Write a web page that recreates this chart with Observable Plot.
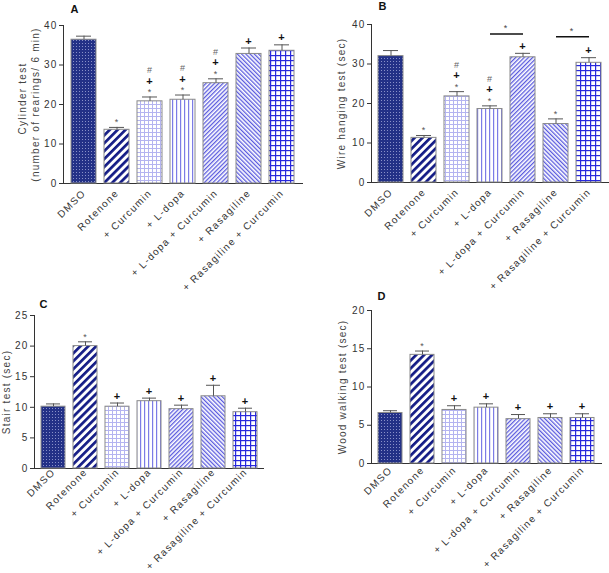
<!DOCTYPE html>
<html><head><meta charset="utf-8">
<script src="https://cdn.jsdelivr.net/npm/d3@7"></script>
<script src="https://cdn.jsdelivr.net/npm/@observablehq/plot@0.6"></script>
<style>
body{margin:0;background:#fff}
#root{position:relative;width:609px;height:573px;overflow:hidden;font-family:"Liberation Sans",Arial,sans-serif}
#root svg.plot{position:absolute}
#root svg text{letter-spacing:1.25px}
</style></head><body>
<svg width="0" height="0" style="position:absolute">
<defs>
 <pattern id="p0" width="3" height="3" patternUnits="userSpaceOnUse">
   <rect width="3" height="3" fill="#233187"/>
   <rect x="1" y="1" width="1" height="1" fill="#8890c8"/>
 </pattern>
 <pattern id="p1" width="5.6" height="5.6" patternUnits="userSpaceOnUse" patternTransform="rotate(45)">
   <rect width="5.6" height="5.6" fill="#fff"/>
   <rect width="2.7" height="5.6" fill="#141c86"/>
 </pattern>
 <pattern id="p2" width="4" height="4" patternUnits="userSpaceOnUse">
   <rect width="4" height="4" fill="#fff"/>
   <rect width="1" height="4" fill="#b4b4f0"/>
   <rect width="4" height="1" fill="#b4b4f0"/>
 </pattern>
 <pattern id="p3" width="4" height="4" patternUnits="userSpaceOnUse">
   <rect width="4" height="4" fill="#fff"/>
   <rect width="1.2" height="4" fill="#7c7ce6"/>
 </pattern>
 <pattern id="p4" width="3" height="3" patternUnits="userSpaceOnUse" patternTransform="rotate(45)">
   <rect width="3" height="3" fill="#fff"/>
   <rect width="1.3" height="3" fill="#5a5ade"/>
 </pattern>
 <pattern id="p5" width="3" height="3" patternUnits="userSpaceOnUse" patternTransform="rotate(-45)">
   <rect width="3" height="3" fill="#fff"/>
   <rect width="1.3" height="3" fill="#5a5ade"/>
 </pattern>
 <pattern id="p6" width="5" height="5" patternUnits="userSpaceOnUse">
   <rect width="5" height="5" fill="#fff"/>
   <rect width="1.2" height="5" fill="#2828dc"/>
   <rect width="5" height="1.2" fill="#2828dc"/>
 </pattern>
</defs></svg>
<div id="root"></div>
<script>
// ---------- data ----------
const groups = ["DMSO", "Rotenone", "+ Curcumin", "+ L-dopa", "+ L-dopa + Curcumin", "+ Rasagiline", "+ Rasagiline + Curcumin"];

const cylinderMean = [36.4, 13.6, 20.8, 21.2, 25.4, 32.8, 33.6];
const cylinderSem  = [0.9, 0.6, 1.1, 1.2, 1.1, 1.5, 1.5];
const cylinderSig  = ["", "*", "*+#", "*+#", "*+#", "+", "+"];

const wireMean = [32.0, 11.3, 21.8, 18.6, 31.7, 14.8, 30.3];
const wireSem  = [1.4, 0.6, 1.2, 0.8, 1.0, 1.3, 1.3];
const wireSig  = ["", "*", "*+#", "*+#", "+", "*", "+"];
const wireCompareFrom = ["+ L-dopa", "+ Rasagiline"];
const wireCompareTo   = ["+ L-dopa + Curcumin", "+ Rasagiline + Curcumin"];
const wireCompareLevel = [37.6, 36.9];

const stairMean = [10.1, 20.0, 10.1, 11.0, 9.7, 11.8, 9.2];
const stairSem  = [0.45, 0.7, 0.6, 0.5, 0.65, 1.8, 0.65];
const stairSig  = ["", "*", "+", "+", "+", "+", "+"];

const woodMean = [6.6, 14.2, 7.0, 7.3, 5.8, 5.95, 5.95];
const woodSem  = [0.3, 0.5, 0.55, 0.5, 0.6, 0.55, 0.55];
const woodSig  = ["", "*", "+", "+", "+", "+", "+"];

const yTicksCyl = [0, 10, 20, 30, 40];
const yTicksWire = [0, 10, 20, 30, 40];
const yTicksStair = [0, 5, 10, 15, 20, 25];
const yTicksWood = [0, 5, 10, 15, 20];

// ---------- drawing ----------
const symStyle = {
  "*": {fontSize: 9, fill: "#555", fontWeight: "normal", corr: 2.1},
  "+": {fontSize: 11, fill: "#111", fontWeight: "bold", corr: 0},
  "#": {fontSize: 9, fill: "#666", fontWeight: "normal", corr: 0}
};
const stackOff = [7, 16, 27];

function panel(o) {
  const data = groups.map((g, i) => ({group: g, mean: o.mean[i], top: o.mean[i] + o.sem[i], i}));
  const ann = [];
  data.forEach((d, i) => {
    [...o.sig[i]].forEach((s, k) => ann.push({group: d.group, top: d.top, sym: s, idx: k}));
  });
  const marks = [];
  groups.forEach((g, i) => {
    marks.push(Plot.barY(data.filter(d => d.group === g), {x: "group", y: "mean", fill: `url(#p${i})`, stroke: "#8a8a8a", strokeWidth: 1}));
  });
  marks.push(Plot.ruleX(data, {x: "group", y1: "mean", y2: "top", stroke: "#555", strokeWidth: 1}));
  marks.push(Plot.tickY(data, {x: "group", y: "top", stroke: "#555", strokeWidth: 1, insetLeft: 5, insetRight: 5}));
  for (const s of Object.keys(symStyle)) {
    for (let k = 0; k < 3; k++) {
      const sub = ann.filter(a => a.sym === s && a.idx === k);
      if (!sub.length) continue;
      const st = symStyle[s];
      marks.push(Plot.text(sub, {x: "group", y: "top", text: "sym", lineAnchor: "middle",
        dy: -stackOff[k] + st.corr, fontSize: st.fontSize, fill: st.fill, fontWeight: st.fontWeight}));
    }
  }
  if (o.compare) {
    const cmp = o.compare.from.map((f, i) => ({from: f, to: o.compare.to[i], y: o.compare.level[i]}));
    marks.push(Plot.link(cmp, {x1: "from", x2: "to", y1: "y", y2: "y", stroke: "#111", strokeWidth: 1.5}));
    marks.push(Plot.text(cmp, {x: "to", y: "y", text: () => "*", dx: o.compare.dx, dy: -6, fontSize: 9, fill: "#444", lineAnchor: "middle"}));
  }
  o.ylabels.forEach((l) => {
    marks.push(Plot.text([l.text], {frameAnchor: "left", text: d => d, rotate: -90, textAnchor: "middle", lineAnchor: "middle",
      dx: l.dx, dy: l.dy || 0, fontSize: 10, fill: "#444"}));
  });
  marks.push(Plot.text([o.letter], {frameAnchor: "top-left", text: d => d, textAnchor: "start", lineAnchor: "top",
    dx: o.letterDx, dy: o.letterDy, fontSize: 11, fontWeight: "bold", fill: "#111"}));

  const chart = Plot.plot({
    width: o.width, height: o.height,
    marginLeft: o.ml, marginRight: o.mr, marginTop: o.mt, marginBottom: o.mb,
    style: {fontFamily: "Liberation Sans, Arial, sans-serif", fontSize: "10px", color: "#333", background: "transparent", overflow: "visible"},
    x: {domain: groups, paddingInner: o.pi, paddingOuter: o.po, tickRotate: -45, tickSize: 0, tickPadding: o.tp, label: null, line: true},
    y: {domain: o.yDomain, ticks: o.yTicks, tickSize: 4, tickPadding: 2, label: null, line: true},
    marks
  });
  chart.style.left = o.left + "px";
  chart.style.top = o.top + "px";
  chart.classList.add("plot");
  document.getElementById("root").appendChild(chart);
}

panel({mean: cylinderMean, sem: cylinderSem, sig: cylinderSig, yDomain: [0, 40], yTicks: yTicksCyl,
  left: 0, top: 0, width: 305, height: 300, ml: 63, mr: 3, mt: 25, mb: 117, pi: 0.235, po: 0.14, tp: 8,
  ylabels: [{text: "Cylinder test", dx: -41, dy: -6}, {text: "(number of rearings/ 6 min)", dx: -28}],
  letter: "A", letterDx: 7, letterDy: -20});

panel({mean: wireMean, sem: wireSem, sig: wireSig, yDomain: [0, 40], yTicks: yTicksWire,
  left: 305, top: 0, width: 304, height: 300, ml: 66, mr: 0, mt: 24, mb: 118, pi: 0.235, po: 0.12, tp: 8,
  compare: {from: wireCompareFrom, to: wireCompareTo, level: wireCompareLevel, dx: -17},
  ylabels: [{text: "Wire hanging test (sec)", dx: -30}],
  letter: "B", letterDx: 7, letterDy: -22});

panel({mean: stairMean, sem: stairSem, sig: stairSig, yDomain: [0, 25], yTicks: yTicksStair,
  left: 0, top: 290, width: 305, height: 283, ml: 34, mr: 42, mt: 25, mb: 105, pi: 0.264, po: 0.135, tp: 2,
  ylabels: [{text: "Stair test (sec)", dx: -28}],
  letter: "C", letterDx: 5, letterDy: -15});

panel({mean: woodMean, sem: woodSem, sig: woodSig, yDomain: [0, 20], yTicks: yTicksWood,
  left: 305, top: 290, width: 304, height: 283, ml: 66, mr: 8, mt: 20, mb: 110, pi: 0.26, po: 0.125, tp: 5,
  ylabels: [{text: "Wood walking test (sec)", dx: -29}],
  letter: "D", letterDx: 6, letterDy: -18});
</script>
</body></html>
